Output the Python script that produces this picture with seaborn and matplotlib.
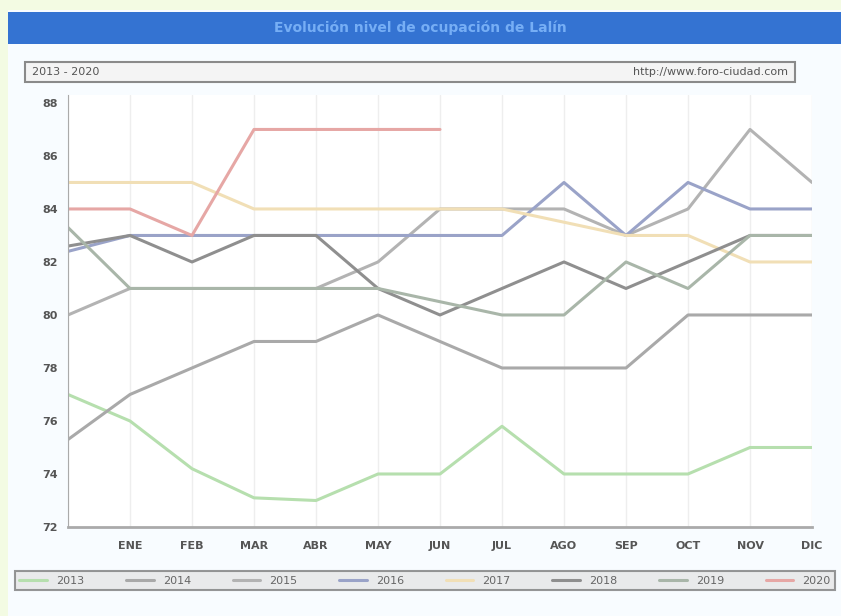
import numpy as np
import pandas as pd
import matplotlib
matplotlib.use("Agg")
import matplotlib.pyplot as plt
from matplotlib.patches import Rectangle
import seaborn as sns

months = ["", "ENE", "FEB", "MAR", "ABR", "MAY", "JUN", "JUL", "AGO", "SEP", "OCT", "NOV", "DIC"]
years = ["2013", "2014", "2015", "2016", "2017", "2018", "2019", "2020"]
nan = np.nan

v2013 = [77, 76, 74.2, 73.1, 73, 74, 74, 75.8, 74, 74, 74, 75, 75]
v2014 = [75.3, 77, 78, 79, 79, 80, 79, 78, 78, 78, 80, 80, 80]
v2015 = [80, 81, 81, 81, 81, 82, 84, 84, 84, 83, 84, 87, 85]
v2016 = [82.4, 83, 83, 83, 83, 83, 83, 83, 85, 83, 85, 84, 84]
v2017 = [85, 85, 85, 84, 84, 84, 84, 84, 83.5, 83, 83, 82, 82]
v2018 = [82.6, 83, 82, 83, 83, 81, 80, 81, 82, 81, 82, 83, 83]
v2019 = [83.3, 81, 81, 81, 81, 81, 80.5, 80, 80, 82, 81, 83, 83]
v2020 = [84, 84, 83, 87, 87, 87, 87, nan, nan, nan, nan, nan, nan]

colors = ["#b6dfae", "#a9a9a9", "#b3b3b3", "#9aa3c8", "#f1dfb6",
          "#8f8f8f", "#a9b6a9", "#e6a7a5"]

series = [v2013, v2014, v2015, v2016, v2017, v2018, v2019, v2020]
rows = []
for y, vals in zip(years, series):
    for i, v in enumerate(vals):
        rows.append({"mes": i, "valor": v, "year": y})
df = pd.DataFrame(rows).dropna()

sns.set_style("white")
W, H = 841, 616
fig = plt.figure(figsize=(W / 100, H / 100), dpi=100)
fig.patch.set_facecolor("#f3fbe3")

# main white panel
fig.patches.append(Rectangle((8 / W, 0), 1 - 8 / W, 1 - 10 / H, transform=fig.transFigure,
                             facecolor="#f8fcff", edgecolor="none", zorder=0))
# title bar
fig.patches.append(Rectangle((8 / W, 1 - 44 / H), 1 - 8 / W, 32 / H, transform=fig.transFigure,
                             facecolor="#3473d2", edgecolor="none", zorder=1))
fig.text(0.5, 1 - 28 / H, "Evolución nivel de ocupación de Lalín", ha="center", va="center",
         color="#76aef5", fontsize=10, fontweight="bold")

# header box
fig.patches.append(Rectangle((25 / W, 1 - 82 / H), 770 / W, 20 / H, transform=fig.transFigure,
                             facecolor="#f4f4f4", edgecolor="#8a8a8a", linewidth=1.5, zorder=1))
fig.text(32 / W, 1 - 72 / H, "2013 - 2020", ha="left", va="center", fontsize=8, color="#555555")
fig.text(788 / W, 1 - 72 / H, "http://www.foro-ciudad.com", ha="right", va="center",
         fontsize=8, color="#555555")

ax = fig.add_axes([68 / W, (H - 527) / H, (812 - 68) / W, (527 - 95) / H])
ax.set_zorder(5)
ax.set_facecolor("white")
sns.lineplot(data=df, x="mes", y="valor", hue="year", palette=dict(zip(years, colors)),
             linewidth=2.2, ax=ax, legend=False)

ax.set_xlim(0, 12)
ax.set_ylim(72, 88.3)
ax.set_yticks(np.arange(72, 89, 2))
ax.set_xticks(range(13))
ax.set_xticklabels(months, fontsize=8, color="#555555", fontweight="bold")
ax.tick_params(axis="y", labelsize=8, labelcolor="#555555", length=4, color="#999999")
ax.tick_params(axis="x", length=4, color="#999999", direction="in", pad=10)
for lbl in ax.get_yticklabels():
    lbl.set_fontweight("bold")
ax.grid(axis="x", color="#eeeeee", linewidth=1)
ax.set_xlabel("")
ax.set_ylabel("")
for s in ["top", "right"]:
    ax.spines[s].set_visible(False)
ax.spines["left"].set_color("#aaaaaa")
ax.spines["bottom"].set_color("#aaaaaa")
ax.spines["bottom"].set_linewidth(2)

handles = [plt.Line2D([], [], color=c, linewidth=2.2) for c in colors]
leg = fig.legend(handles, years, loc="lower left", ncol=8, mode="expand",
                 bbox_to_anchor=(15 / W, (H - 590) / H, 820 / W, 28 / H),
                 fontsize=8, frameon=True, fancybox=False, handlelength=2.5,
                 borderaxespad=0)
leg.get_frame().set_facecolor("#e6e6e6")
leg.get_frame().set_edgecolor("#7d7d7d")
leg.get_frame().set_linewidth(1.5)
for t in leg.get_texts():
    t.set_color("#666666")

fig.savefig("out.png", dpi=100, facecolor=fig.get_facecolor())
